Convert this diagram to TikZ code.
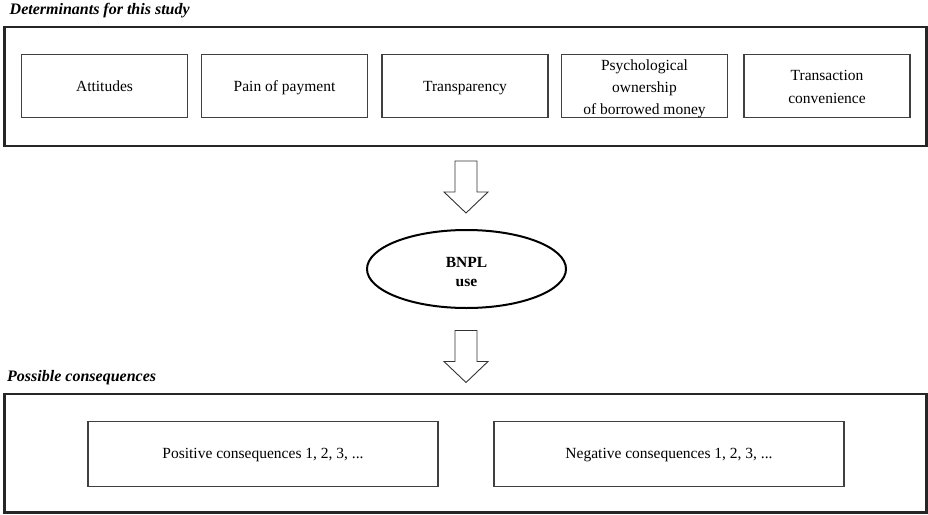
\documentclass[tikz,border=0pt]{standalone}
\usepackage{fontspec}
\setmainfont{Liberation Serif}
\usetikzlibrary{shapes.geometric}
\newcommand\hgtrule[1]{\rule{0pt}{#1}}
\newcommand\nodepth[1]{\raisebox{0pt}[\height][0pt]{#1}}
\begin{document}
\begin{tikzpicture}[x=1pt,y=-1pt,
  txt/.style={font=\fontsize{15.5}{22.3}\selectfont},
  heading/.style={font=\fontsize{16}{18}\selectfont\bfseries\itshape, anchor=base west, inner sep=0pt},
  outerbox/.style={draw=black!85, line width=2.4pt},
  factor/.style={txt, draw=black!75, line width=1.2pt, minimum width=166pt, minimum height=63pt, align=center, inner sep=0pt},
  oneline/.style={text height=10.6pt, text depth=0pt},
  conseq/.style={txt, draw=black!75, line width=1.2pt, minimum width=350pt, minimum height=65pt, align=center,
    text height=10.6pt, text depth=2.5pt},
  usage/.style={ellipse, draw=black, line width=2pt, minimum width=199pt, minimum height=78pt, inner sep=0pt, align=center,
    font=\fontsize{15.5}{19.5}\selectfont\bfseries},
  blockarr/.pic={\draw[black!80, line width=0.9pt, fill=white, line join=miter]
     (-11,0) -- (11,0) -- (11,31) -- (22,31) -- (0,52) -- (-22,31) -- (-11,31) -- cycle;}
]
\useasboundingbox (0,0) rectangle (928,514);
% headings
\node[heading] (h1) at (9.5,14) {Determinants for this study};
\node[heading] (h2) at (7,381) {Possible consequences};
% outer frames
\draw[outerbox] (4.5,27) rectangle (926.5,146);
\draw[outerbox] (4.5,394) rectangle (926.5,512.5);
% determinants
\node[factor, oneline] (att) at (104.5,86) {Attitudes};
\node[factor, oneline] (pain) at (284.5,86) {Pain of payment};
\node[factor, oneline] (trans) at (465,86) {Transparency};
\node[factor] (psy) at (644.5,86) {\hgtrule{13pt}Psychological\\ownership\\\nodepth{of borrowed money}};
\node[factor] (conv) at (827,86) {\hgtrule{12.3pt}Transaction\\convenience};
% arrows
\coordinate (a1) at (466,161);
\coordinate (a2) at (466,330.5);
\pic at (a1) {blockarr};
\pic at (a2) {blockarr};
% BNPL
\node[usage] (bnpl) at (466.5,269) {\hgtrule{16.3pt}BNPL\\use};
% consequences
\node[conseq] (pos) at (263,454) {Positive consequences 1, 2, 3, ...};
\node[conseq] (neg) at (669,454) {Negative consequences 1, 2, 3, ...};
\end{tikzpicture}
\end{document}
